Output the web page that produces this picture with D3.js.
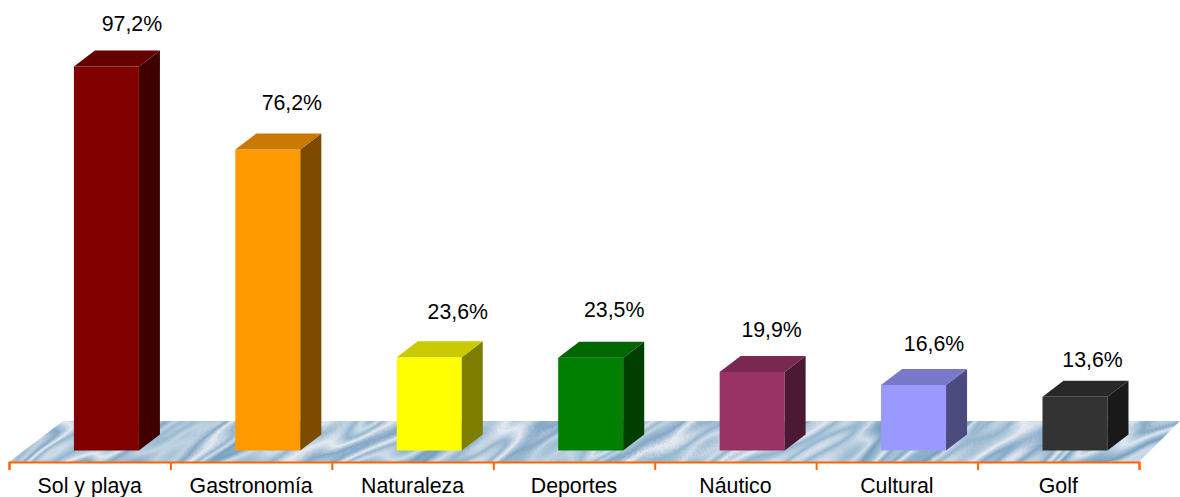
<!DOCTYPE html>
<html>
<head>
<meta charset="utf-8">
<script src="https://cdn.jsdelivr.net/npm/d3@7"></script>
<style>
    html, body { margin: 0; background: #fff; }
    svg { display: block; }
    text { font-family: "Liberation Sans", Arial, sans-serif; fill: #000; }
    .axis-labels path, .axis-labels line { display: none; }
</style>
</head>
<body>
<svg id="chart" width="1180" height="497"></svg>
<script>
const categories = ["Sol y playa", "Gastronomía", "Naturaleza", "Deportes", "Náutico", "Cultural", "Golf"];
const values = [97.2, 76.2, 23.6, 23.5, 19.9, 16.6, 13.6];
const valueLabels = ["97,2%", "76,2%", "23,6%", "23,5%", "19,9%", "16,6%", "13,6%"];
const barColours = ["#800000", "#ff9900", "#ffff00", "#008000", "#993366", "#9999ff", "#333333"];

// Data labels were hand placed in the original, so each one has its own nudge
const labelShiftX = [25.5, 24, 28.5, 23.5, 19.5, 20.5, 17.5];
const labelShiftY = [-35.5, -39.5, -38.5, -40.5, -34.5, -33.5, -29.5];

const axisY = 462;
const floorBackY = 421;
const baseY = 450.5;
const depthX = 21;
const depthY = 16;
const barWidth = 65;
const barShift = 16.7;

const svg = d3.select("#chart");

const xScale = d3.scaleBand().domain(categories).range([9, 1139]);
const edgeScale = d3.scaleLinear().domain([0, categories.length]).range([9, 1139]);
const yScale = d3.scaleLinear().domain([0, 100]).range([baseY, baseY - 395]);

// Marble texture for the floor: noise pushed through a banded table gives the swirly contours
const defs = svg.append("defs");
const marble = defs.append("filter")
    .attr("id", "marble")
    .attr("x", 0).attr("y", 0).attr("width", 1).attr("height", 1)
    .attr("color-interpolation-filters", "sRGB");
marble.append("feTurbulence")
    .attr("type", "fractalNoise")
    .attr("baseFrequency", "0.004 0.016")
    .attr("numOctaves", 3)
    .attr("seed", 7)
    .attr("result", "noise");
marble.append("feColorMatrix")
    .attr("in", "noise")
    .attr("type", "matrix")
    .attr("values", "1 0 0 0 0  1 0 0 0 0  1 0 0 0 0  0 0 0 0 1")
    .attr("result", "grey");
const bands = marble.append("feComponentTransfer").attr("in", "grey");
bands.append("feFuncR").attr("type", "table").attr("tableValues", ".5 .62 .78 .55 .74 .52 .88 .62 .47 .82 .58 .9 .52 .76 .6 .86 .5 .72 .56 .84 .52");
bands.append("feFuncG").attr("type", "table").attr("tableValues", ".65 .74 .84 .69 .82 .67 .91 .74 .63 .87 .71 .92 .66 .83 .73 .89 .65 .8 .7 .88 .66");
bands.append("feFuncB").attr("type", "table").attr("tableValues", ".77 .83 .9 .8 .89 .78 .95 .83 .75 .92 .81 .95 .78 .89 .82 .93 .77 .87 .81 .93 .78");

// Floor
const floorPoints = [
    [edgeScale(0), axisY],
    [edgeScale(categories.length), axisY],
    [1180, floorBackY],
    [63, floorBackY]
];
defs.append("clipPath").attr("id", "floor-clip")
    .append("polygon").attr("points", floorPoints.join(" "));
svg.append("g")
    .attr("clip-path", "url(#floor-clip)")
    .append("rect")
    .attr("x", -200).attr("y", -300)
    .attr("width", 1600).attr("height", 1100)
    .attr("transform", "rotate(-32 590 440)")
    .attr("filter", "url(#marble)");

// Axis line with ticks on the category edges
svg.append("g")
    .attr("transform", `translate(0, ${axisY})`)
    .call(d3.axisBottom(edgeScale).ticks(categories.length).tickFormat("").tickSize(8).tickSizeOuter(8))
    .call((g) => g.selectAll("path, line").attr("stroke", "#ff6600").attr("stroke-width", 2));

// Category labels
svg.append("g")
    .attr("class", "axis-labels")
    .attr("transform", `translate(0, ${axisY})`)
    .call(d3.axisBottom(xScale).tickSize(0).tickPadding(16))
    .call((g) => g.selectAll("text").style("font-size", "21.3px").attr("fill", "#000"));

// Bars: front, side and top faces
const bars = svg.append("g").selectAll("g")
    .data(categories)
    .join("g");

function barLeft(i) {
    return xScale(categories[i]) + (xScale.bandwidth() - barWidth) / 2 + barShift;
}

bars.append("rect")
    .attr("x", (d, i) => barLeft(i))
    .attr("y", (d, i) => yScale(values[i]))
    .attr("width", barWidth)
    .attr("height", (d, i) => baseY - yScale(values[i]))
    .attr("fill", (d, i) => barColours[i]);

bars.append("path")
    .attr("fill", (d, i) => d3.color(barColours[i]).darker(2).formatHex())
    .attr("d", (d, i) => {
        let right = barLeft(i) + barWidth;
        let top = yScale(values[i]);
        return `M${right},${top}l${depthX},${-depthY}V${baseY - depthY}l${-depthX},${depthY}Z`;
    });

bars.append("path")
    .attr("fill", (d, i) => d3.rgb(barColours[i]).darker(0.65).formatHex())
    .attr("d", (d, i) => {
        let top = yScale(values[i]);
        return `M${barLeft(i)},${top}l${depthX},${-depthY}h${barWidth}l${-depthX},${depthY}Z`;
    });

// Value labels
svg.append("g").selectAll("text")
    .data(valueLabels)
    .join("text")
    .attr("x", (d, i) => barLeft(i) + barWidth / 2 + labelShiftX[i])
    .attr("y", (d, i) => yScale(values[i]) + labelShiftY[i])
    .attr("text-anchor", "middle")
    .style("font-size", "21.3px")
    .text((d) => d);
</script>
</body>
</html>
